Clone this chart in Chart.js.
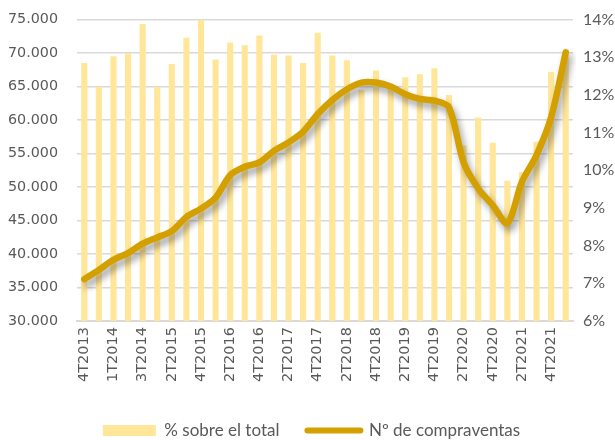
<!DOCTYPE html>
<html>
<head>
<meta charset="utf-8">
<script src="https://cdn.jsdelivr.net/npm/chart.js@4.4.1/dist/chart.umd.min.js"></script>
<style>
html,body{margin:0;padding:0;background:#fff;}
#wrap{width:615px;height:440px;position:relative;}
</style>
</head>
<body>
<div id="wrap"><canvas id="c" width="615" height="440"></canvas></div>
<script>
const categories = ["4T2013","4T2013b","1T2014","2T2014","3T2014","4T2014","2T2015","3T2015","4T2015","1T2016","2T2016","3T2016","4T2016","1T2017","2T2017","3T2017","4T2017","1T2018","2T2018","3T2018","4T2018","1T2019","2T2019","3T2019","4T2019","1T2020","2T2020","3T2020","4T2020","1T2021","2T2021","3T2021","4T2021","1T2022"];
const pctSobreTotal = [12.85,12.22,13.03,13.11,13.88,12.22,12.82,13.52,14.0,12.94,13.39,13.32,13.58,13.07,13.05,12.85,13.65,13.05,12.92,12.13,12.65,12.25,12.47,12.55,12.71,12.0,10.66,11.4,10.73,9.72,9.95,10.76,12.61,13.2];
const compraventas = [36230,37640,39140,40130,41540,42480,43420,45520,46780,48430,51770,53020,53670,55410,56670,58260,60910,63010,64610,65600,65600,65000,63860,63160,62900,61910,53670,49780,47280,44620,50770,54770,60420,70100];
const leftTicks = [30000,35000,40000,45000,50000,55000,60000,65000,70000,75000];
const rightTicks = [6,7,8,9,10,11,12,13,14];
const seriesNames = ["% sobre el total","Nº de compraventas"];

const BAR = "#FFE699", LINE = "#D4A000", TXT = "#595959";

const shadowPlugin = {
  id: 'lineShadow',
  afterLayout(chart) {
    const lg = chart.legend;
    if (lg) { lg.top += 9; lg.bottom += 9; lg.left += 0; lg.right += 0; }
  },
  beforeDatasetDraw(chart, args) {
    if (chart.data.datasets[args.index].type === 'line') {
      const ctx = chart.ctx;
      ctx.save();
      ctx.shadowColor = 'rgba(0,0,0,0.38)';
      ctx.shadowBlur = 7;
      ctx.shadowOffsetX = 3;
      ctx.shadowOffsetY = 5;
    }
  },
  afterDatasetDraw(chart, args) {
    if (chart.data.datasets[args.index].type === 'line') chart.ctx.restore();
  }
};

new Chart(document.getElementById('c'), {
  data: {
    labels: categories,
    datasets: [
      { type: 'bar', label: seriesNames[0], data: pctSobreTotal, yAxisID: 'yR',
        backgroundColor: BAR, borderWidth: 0, barPercentage: 0.42, categoryPercentage: 1, order: 1 },
      { type: 'line', label: seriesNames[1], data: compraventas, yAxisID: 'yL',
        borderColor: LINE, backgroundColor: LINE, borderWidth: 6.5, pointRadius: 0,
        tension: 0.3, borderCapStyle: 'round', borderJoinStyle: 'round', order: 0 }
    ]
  },
  options: {
    responsive: false,
    animation: false,
    events: [],
    layout: { padding: { top: 0, left: 8, right: 0, bottom: 0 } },
    plugins: {
      tooltip: { enabled: false },
      legend: {
        position: 'bottom',
        labels: {
          font: { family: 'Lato', size: 17 },
          color: TXT,
          usePointStyle: true,
          boxHeight: 11,
          pointStyleWidth: 53,
          padding: 28,
          generateLabels(chart) {
            return chart.data.datasets.map((ds, i) => ({
              text: ds.label,
              fillStyle: ds.type === 'bar' ? BAR : LINE,
              strokeStyle: ds.type === 'bar' ? BAR : LINE,
              lineWidth: ds.type === 'bar' ? 0 : 6,
              lineCap: 'round',
              pointStyle: ds.type === 'bar' ? 'rect' : 'line',
              fontColor: TXT,
              hidden: false,
              datasetIndex: i
            }));
          }
        }
      }
    },
    scales: {
      x: {
        grid: { display: false, drawTicks: false },
        border: { color: '#d9d9d9', width: 2 },
        ticks: {
          autoSkip: false, maxRotation: 90, minRotation: 90, padding: 6,
          color: TXT, font: { family: 'DejaVu Sans', size: 14.5 },
          callback(v, i) { return i % 2 === 0 ? (i === 2 ? '1T2014' : categories[i]) : ''; }
        },
        afterFit(s) { s.height = 64; }
      },
      yL: {
        position: 'left', min: 30000, max: 75000,
        afterBuildTicks(s) { s.ticks = leftTicks.map(v => ({ value: v })); },
        grid: { color: '#d9d9d9', lineWidth: 1.5, drawTicks: false },
        border: { display: false },
        ticks: {
          padding: 0, crossAlign: 'far', color: TXT, font: { family: 'DejaVu Sans', size: 14.3 },
          callback(v) { return v.toLocaleString('de-DE'); }
        },
        afterFit(s) { s.width = 69; }
      },
      yR: {
        position: 'right', min: 6, max: 14,
        afterBuildTicks(s) { s.ticks = rightTicks.map(v => ({ value: v })); },
        grid: { display: false, drawTicks: false },
        border: { display: false },
        ticks: {
          padding: 10, color: TXT, font: { family: 'Lato', size: 16 },
          callback(v) { return v + '%'; }
        },
        afterFit(s) { s.width = 42; }
      }
    }
  },
  plugins: [shadowPlugin]
});
</script>
</body>
</html>
